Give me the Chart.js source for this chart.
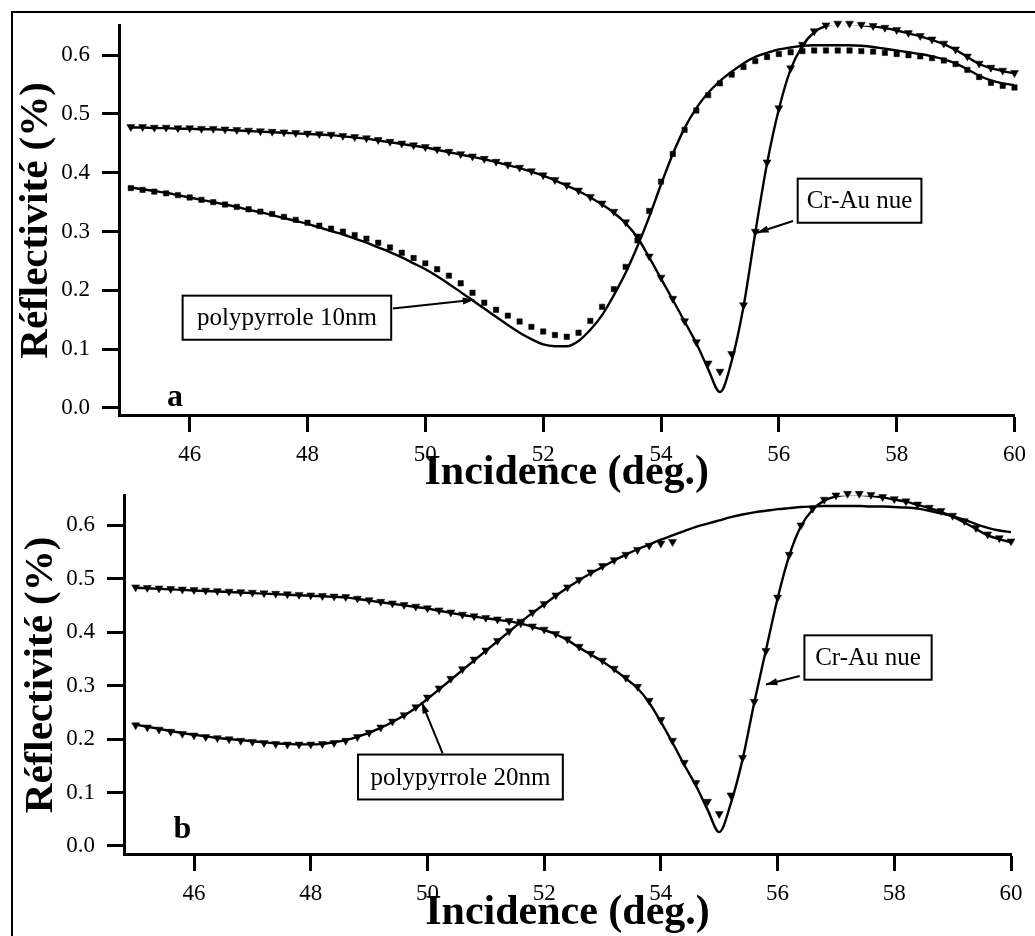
<!DOCTYPE html>
<html>
<head>
<meta charset="utf-8">
<title>Réflectivité - Cr-Au / polypyrrole</title>
<script src="https://cdn.jsdelivr.net/npm/chart.js@4.4.1/dist/chart.umd.min.js"></script>
<style>
    body { margin: 0; background: #fff; }
    #wrap { position: relative; width: 1035px; height: 936px; overflow: hidden; background: #fff; }
    .frame { position: absolute; left: 11px; top: 11px; width: 1040px; height: 940px; border-left: 2px solid #000; border-top: 2px solid #000; }
    .panel { position: absolute; left: 0; width: 1035px; }
    #panelA { top: 0; height: 500px; }
    #panelB { top: 470px; height: 466px; }
</style>
</head>
<body>
<div id="wrap">
    <div class="frame"></div>
    <div class="panel" id="panelA"><canvas id="chartA"></canvas></div>
    <div class="panel" id="panelB"><canvas id="chartB"></canvas></div>
</div>
<script>
// Angle of incidence (deg.), one reading every 0.2 deg
const angles = [
    45.0, 45.2, 45.4, 45.6, 45.8, 46.0, 46.2, 46.4, 46.6, 46.8,
    47.0, 47.2, 47.4, 47.6, 47.8, 48.0, 48.2, 48.4, 48.6, 48.8,
    49.0, 49.2, 49.4, 49.6, 49.8, 50.0, 50.2, 50.4, 50.6, 50.8,
    51.0, 51.2, 51.4, 51.6, 51.8, 52.0, 52.2, 52.4, 52.6, 52.8,
    53.0, 53.2, 53.4, 53.6, 53.8, 54.0, 54.2, 54.4, 54.6, 54.8,
    55.0, 55.2, 55.4, 55.6, 55.8, 56.0, 56.2, 56.4, 56.6, 56.8,
    57.0, 57.2, 57.4, 57.6, 57.8, 58.0, 58.2, 58.4, 58.6, 58.8,
    59.0, 59.2, 59.4, 59.6, 59.8, 60.0
];

const xTicks = [46, 48, 50, 52, 54, 56, 58, 60];
const yTicks = [0.0, 0.1, 0.2, 0.3, 0.4, 0.5, 0.6];

// --- Panel a ---
const crAuMeasA = [
    .478, .478, .477, .477, .476, .476, .475, .475, .474, .473,
    .472, .471, .470, .469, .468, .467, .466, .465, .463, .461,
    .459, .456, .453, .450, .447, .444, .440, .436, .432, .428,
    .424, .419, .414, .409, .403, .396, .388, .379, .370, .359,
    .348, .334, .316, .292, .258, .222, .186, .148, .112, .076,
    .062, .092, .175, .300, .418, .510, .578, .618, .641, .651,
    .654, .654, .652, .650, .647, .643, .638, .633, .627, .620,
    .610, .598, .586, .579, .574, .570
];
const crAuFitA = [
    .477, .477, .476, .476, .475, .475, .474, .474, .473, .472,
    .471, .470, .469, .468, .467, .466, .465, .464, .462, .460,
    .458, .455, .452, .449, .446, .443, .439, .435, .431, .427,
    .423, .418, .413, .408, .402, .395, .387, .378, .369, .358,
    .346, .332, .314, .290, .256, .220, .184, .147, .110, .066,
    .027, .080, .172, .298, .416, .508, .576, .616, .639, .650,
    .653, .653, .651, .649, .646, .642, .637, .632, .626, .619,
    .609, .597, .585, .578, .573, .569
];
const polyMeasA = [
    .374, .371, .368, .365, .362, .358, .354, .350, .346, .342,
    .338, .334, .330, .325, .320, .315, .310, .305, .300, .294,
    .288, .281, .273, .264, .255, .246, .236, .225, .212, .196,
    .179, .167, .157, .147, .138, .130, .124, .121, .128, .148,
    .172, .202, .240, .285, .335, .385, .432, .473, .506, .532,
    .552, .567, .580, .590, .597, .602, .605, .607, .608, .608,
    .608, .608, .607, .606, .604, .602, .600, .598, .595, .591,
    .585, .575, .563, .553, .548, .545
];
const polyFitA = [
    .375, .372, .369, .366, .362, .358, .354, .350, .346, .342,
    .337, .333, .328, .323, .318, .313, .307, .301, .295, .288,
    .281, .273, .265, .256, .246, .236, .224, .211, .197, .183,
    .169, .155, .141, .128, .117, .108, .105, .105, .114, .133,
    .158, .192, .230, .275, .325, .380, .432, .476, .510, .536,
    .556, .572, .586, .597, .604, .610, .613, .616, .617, .617,
    .617, .617, .616, .614, .611, .608, .605, .602, .598, .593,
    .586, .576, .565, .557, .552, .549
];

// --- Panel b ---
const crAuMeasB = [
    .484, .483, .482, .481, .480, .479, .478, .477, .476, .475,
    .474, .473, .472, .471, .470, .469, .468, .467, .466, .463,
    .460, .457, .454, .451, .448, .445, .441, .437, .433, .430,
    .427, .424, .421, .417, .411, .405, .397, .387, .373, .360,
    .347, .332, .315, .298, .272, .236, .197, .156, .118, .083,
    .060, .095, .165, .270, .365, .465, .545, .600, .631, .648,
    .656, .659, .659, .657, .653, .649, .645, .639, .633, .627,
    .618, .608, .595, .583, .576, .570
];
const crAuFitB = [
    .483, .482, .481, .480, .479, .478, .477, .476, .475, .474,
    .473, .472, .471, .470, .469, .468, .467, .466, .465, .462,
    .459, .456, .453, .450, .447, .444, .440, .436, .432, .429,
    .426, .423, .420, .416, .410, .404, .396, .385, .371, .358,
    .345, .330, .313, .295, .268, .232, .193, .152, .113, .068,
    .026, .080, .162, .268, .366, .463, .543, .598, .629, .646,
    .654, .657, .657, .655, .652, .648, .644, .638, .632, .625,
    .616, .605, .593, .581, .574, .568
];
// polypyrrole 20nm readings stop at 54.2 deg.
const polyMeasB = [
    .226, .222, .218, .214, .210, .207, .204, .202, .200, .197,
    .195, .193, .191, .190, .190, .190, .191, .193, .197, .204,
    .212, .222, .233, .245, .260, .278, .295, .313, .331, .349,
    .366, .384, .402, .420, .437, .453, .469, .484, .498, .512,
    .524, .535, .545, .554, .562, .566, .569
];
const polyFitB = [
    .227, .223, .219, .215, .211, .208, .205, .202, .200, .198,
    .196, .194, .192, .191, .190, .190, .191, .194, .198, .204,
    .212, .221, .232, .244, .258, .275, .293, .311, .329, .347,
    .365, .383, .401, .419, .436, .452, .468, .483, .497, .510,
    .522, .534, .545, .555, .564, .573, .581, .589, .597, .603,
    .609, .615, .620, .624, .627, .630, .632, .634, .635, .636,
    .636, .636, .636, .635, .635, .634, .633, .631, .627, .622,
    .617, .610, .602, .595, .590, .587
];

// Boxed labels with their arrows, in data coordinates
const notesA = [
    { text: 'Cr-Au nue', box: [56.32, 0.390, 58.42, 0.315], from: [56.24, 0.318], to: [55.63, 0.298] },
    { text: 'polypyrrole 10nm', box: [45.88, 0.191, 49.42, 0.116], from: [49.45, 0.169], to: [50.83, 0.184] }
];
const notesB = [
    { text: 'Cr-Au nue', box: [56.46, 0.394, 58.64, 0.311], from: [56.38, 0.318], to: [55.80, 0.302] },
    { text: 'polypyrrole 20nm', box: [48.81, 0.171, 52.32, 0.087], from: [50.26, 0.173], to: [49.90, 0.269] }
];

function pts(values) {
    return values.map((v, i) => ({ x: angles[i], y: v }));
}

function measured(values, style, radius) {
    return {
        data: pts(values),
        showLine: false,
        clip: 10,
        pointStyle: style,
        rotation: style === 'triangle' ? 180 : 0,
        pointRadius: radius,
        pointBackgroundColor: '#000',
        pointBorderColor: '#000',
        pointBorderWidth: 0.5
    };
}

function fitted(values) {
    return {
        data: pts(values),
        showLine: true,
        borderColor: '#000',
        borderWidth: 2.4,
        pointRadius: 0,
        cubicInterpolationMode: 'monotone',
        fill: false
    };
}

function notesPlugin(notes, tag) {
    return {
        id: 'notes',
        afterDatasetsDraw(chart) {
            const ctx = chart.ctx;
            const sx = chart.scales.x;
            const sy = chart.scales.y;
            ctx.save();
            ctx.strokeStyle = '#000';
            ctx.lineWidth = 2;

            notes.forEach(n => {
                // arrow
                const x1 = sx.getPixelForValue(n.from[0]), y1 = sy.getPixelForValue(n.from[1]);
                const x2 = sx.getPixelForValue(n.to[0]), y2 = sy.getPixelForValue(n.to[1]);
                ctx.beginPath();
                ctx.moveTo(x1, y1);
                ctx.lineTo(x2, y2);
                ctx.stroke();
                const a = Math.atan2(y2 - y1, x2 - x1);
                ctx.fillStyle = '#000';
                ctx.beginPath();
                ctx.moveTo(x2, y2);
                ctx.lineTo(x2 - 12 * Math.cos(a - 0.3), y2 - 12 * Math.sin(a - 0.3));
                ctx.lineTo(x2 - 12 * Math.cos(a + 0.3), y2 - 12 * Math.sin(a + 0.3));
                ctx.closePath();
                ctx.fill();

                // box
                const bx = sx.getPixelForValue(n.box[0]);
                const by = sy.getPixelForValue(n.box[1]);
                const bw = sx.getPixelForValue(n.box[2]) - bx;
                const bh = sy.getPixelForValue(n.box[3]) - by;
                ctx.fillStyle = '#fff';
                ctx.fillRect(bx, by, bw, bh);
                ctx.strokeRect(bx, by, bw, bh);
                ctx.fillStyle = '#000';
                ctx.font = '25px "Liberation Serif", "Times New Roman", serif';
                ctx.textAlign = 'center';
                ctx.textBaseline = 'middle';
                ctx.fillText(n.text, bx + bw / 2, by + bh / 2 + 1);
            });

            // panel letter
            ctx.font = 'bold 32px "Liberation Serif", "Times New Roman", serif';
            ctx.textAlign = 'center';
            ctx.textBaseline = 'alphabetic';
            ctx.fillText(tag.text, sx.getPixelForValue(tag.at[0]), sy.getPixelForValue(tag.at[1]));
            ctx.restore();
        }
    };
}

const serif = '"Liberation Serif", "Times New Roman", serif';

function makeChart(canvasId, datasets, notes, tag, g) {
    return new Chart(document.getElementById(canvasId), {
        type: 'scatter',
        data: { datasets: datasets },
        options: {
            responsive: true,
            maintainAspectRatio: false,
            animation: false,
            layout: { padding: { top: 20, right: g.padRight, bottom: 0, left: 0 } },
            plugins: {
                legend: { display: false },
                tooltip: { enabled: false }
            },
            scales: {
                x: {
                    type: 'linear',
                    position: 'bottom',
                    min: 44.8,
                    max: 60,
                    afterBuildTicks: s => { s.ticks = xTicks.map(v => ({ value: v })); },
                    afterFit: s => { s.height = g.xHeight; },
                    grid: { drawOnChartArea: false, drawTicks: true, tickLength: 17, tickWidth: 3, tickColor: '#000' },
                    border: { display: true, color: '#000', width: 3 },
                    ticks: {
                        color: '#000',
                        padding: 9,
                        maxRotation: 0,
                        font: { family: serif, size: 23 },
                        callback: v => String(v)
                    },
                    title: {
                        display: true,
                        text: 'Incidence (deg.)',
                        color: '#000',
                        font: { family: serif, size: 42, weight: 'bold', lineHeight: 1 },
                        padding: { top: 0, bottom: g.xTitlePad }
                    }
                },
                y: {
                    type: 'linear',
                    min: g.yMin,
                    max: g.yMax,
                    afterBuildTicks: s => { s.ticks = yTicks.map(v => ({ value: v })); },
                    afterFit: s => { s.width = g.yWidth; },
                    grid: { drawOnChartArea: false, drawTicks: true, tickLength: 17, tickWidth: 3, tickColor: '#000' },
                    border: { display: true, color: '#000', width: 3 },
                    ticks: {
                        color: '#000',
                        padding: 12,
                        font: { family: serif, size: 23 },
                        callback: v => v.toFixed(1)
                    },
                    title: {
                        display: true,
                        text: 'Réflectivité (%)',
                        color: '#000',
                        font: { family: serif, size: 41, weight: 'bold', lineHeight: 1 },
                        padding: { top: g.yTitlePad, bottom: 0 }
                    }
                }
            }
        },
        plugins: [notesPlugin(notes, tag)]
    });
}

makeChart('chartA', [
    measured(crAuMeasA, 'triangle', 4.6),
    measured(polyMeasA, 'rect', 3.8),
    fitted(crAuFitA),
    fitted(polyFitA)
], notesA, { text: 'a', at: [45.75, 0.003] }, {
    padRight: 13, xHeight: 85, yWidth: 119, yMin: -0.012, yMax: 0.650, xTitlePad: 6, yTitlePad: 16
});

makeChart('chartB', [
    measured(crAuMeasB, 'triangle', 4.6),
    measured(polyMeasB, 'triangle', 4.6),
    fitted(crAuFitB),
    fitted(polyFitB)
], notesB, { text: 'b', at: [45.8, 0.015] }, {
    padRight: 24, xHeight: 82, yWidth: 124, yMin: -0.015, yMax: 0.655, xTitlePad: 2, yTitlePad: 21
});
</script>
</body>
</html>
